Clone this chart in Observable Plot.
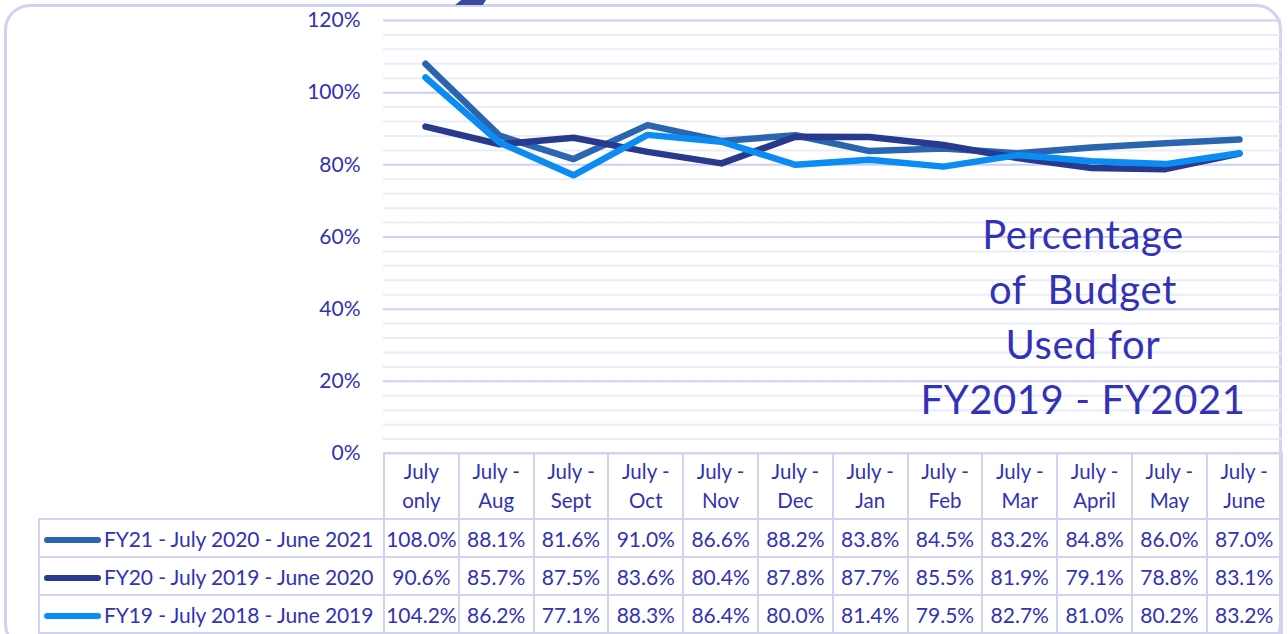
<!DOCTYPE html>
<html>
<head>
<meta charset="utf-8">
<script src="https://cdn.jsdelivr.net/npm/d3@7"></script>
<script src="https://cdn.jsdelivr.net/npm/@observablehq/plot@0.6"></script>
<style>
  html, body { margin: 0; padding: 0; background: #ffffff; }
  #wrap { position: relative; width: 1288px; height: 634px; overflow: hidden; font-family: Lato, "Open Sans", sans-serif; color: #3232b4; }
  #frame { position: absolute; left: 4px; top: 4px; width: 1272px; height: 640px; border: 3px solid #d2d2f2; border-radius: 26px; box-sizing: content-box; }
  #chart { position: absolute; left: 0; top: 0; }
  #title { position: absolute; left: 883px; width: 400px; top: 207px; text-align: center; font-size: 40px; line-height: 55px; white-space: pre; color: #3232b8; letter-spacing: 0.6px; }
  #tbl { position: absolute; left: 38px; top: 452px; border-collapse: collapse; table-layout: fixed; }
  #tbl td { border: 2px solid #d2d2f2; padding: 0; text-align: center; font-size: 21px; color: #3232b4; white-space: nowrap; overflow: visible; }
  #tbl tr.head td { height: 64px; line-height: 29px; font-size: 20.5px; }
  #tbl tr.head td.blank { border: none; border-right: 2px solid #d2d2f2; }
  #tbl tr.row td { height: 36px; }
  #tbl td.leg { text-align: left; font-size: 21px; padding-left: 4px; letter-spacing: -0.1px; }
  .sw { display: inline-block; width: 57px; height: 6px; border-radius: 3px; vertical-align: middle; margin-right: 3px; position: relative; top: -1px; }
  #nub { position: absolute; left: 455px; top: 0; width: 31px; height: 5px; background: #3b4b9c; clip-path: polygon(0 100%, 20% 0, 100% 0, 90% 100%); }
</style>
</head>
<body>
<div id="wrap">
  <div id="frame"></div>
  <div id="chart"></div>
  <div id="nub"></div>
  <div id="title"></div>
  <table id="tbl"></table>
</div>
<script>
// ---- data ----
const categories = ["July\nonly", "July -\nAug", "July -\nSept", "July -\nOct", "July -\nNov", "July -\nDec",
                    "July -\nJan", "July -\nFeb", "July -\nMar", "July -\nApril", "July -\nMay", "July -\nJune"];
const seriesNames = ["FY21 - July 2020 - June 2021", "FY20 - July 2019 - June 2020", "FY19 - July 2018 - June 2019"];
const seriesColors = ["#2a66b0", "#283a8e", "#0a8cf2"];
const fy21 = [108.0, 88.1, 81.6, 91.0, 86.6, 88.2, 83.8, 84.5, 83.2, 84.8, 86.0, 87.0];
const fy20 = [90.6, 85.7, 87.5, 83.6, 80.4, 87.8, 87.7, 85.5, 81.9, 79.1, 78.8, 83.1];
const fy19 = [104.2, 86.2, 77.1, 88.3, 86.4, 80.0, 81.4, 79.5, 82.7, 81.0, 80.2, 83.2];
const majorTicks = [0, 20, 40, 60, 80, 100, 120];
const minorTicks = [4, 8, 12, 16, 24, 28, 32, 36, 44, 48, 52, 56, 64, 68, 72, 76, 84, 88, 92, 96, 104, 108, 112, 116];
const titleLines = ["Percentage", "of  Budget", "Used for", "FY2019 - FY2021"];

const seriesValues = [fy21, fy20, fy19];
const rows = seriesNames.flatMap((s, si) => categories.map((c, i) => ({series: s, cat: c, value: seriesValues[si][i]})));

const textColor = "#3232b4";

const chart = Plot.plot({
  width: 1288,
  height: 456,
  marginTop: 20,
  marginBottom: 3,
  marginLeft: 383,
  marginRight: 7,
  style: {fontFamily: "Lato, 'Open Sans', sans-serif", background: "transparent", overflow: "visible"},
  x: {type: "point", domain: categories, padding: 0.5, axis: null},
  y: {domain: [0, 120], axis: null, label: null},
  color: {domain: seriesNames, range: seriesColors},
  marks: [
    Plot.ruleY(minorTicks, {stroke: "#ebebfa", strokeWidth: 2}),
    Plot.ruleY(majorTicks, {stroke: "#cfcff2", strokeWidth: 2}),
    Plot.axisY(majorTicks, {tickFormat: d => d + "%", tickSize: 0, tickPadding: 23, fontSize: 21, fill: textColor, anchor: "left", label: null}),
    Plot.lineY(rows, {x: "cat", y: "value", z: "series", stroke: "series", strokeWidth: 6.5, strokeLinecap: "round", strokeLinejoin: "round"})
  ]
});
document.getElementById("chart").appendChild(chart);

document.getElementById("title").textContent = titleLines.join("\n");

// ---- table ----
const tbl = document.getElementById("tbl");
const colW = (1280.6 - 383) / categories.length;
const cg = document.createElement("colgroup");
const c0 = document.createElement("col"); c0.style.width = (383 - 38) + "px"; cg.appendChild(c0);
categories.forEach(() => { const c = document.createElement("col"); c.style.width = colW + "px"; cg.appendChild(c); });
tbl.appendChild(cg);
tbl.style.width = (1280.6 - 38) + "px";

const hr = document.createElement("tr"); hr.className = "head";
const blank = document.createElement("td"); blank.className = "blank"; hr.appendChild(blank);
categories.forEach(c => {
  const td = document.createElement("td");
  td.innerHTML = c.split("\n").join("<br>");
  hr.appendChild(td);
});
tbl.appendChild(hr);

seriesNames.forEach((s, si) => {
  const tr = document.createElement("tr"); tr.className = "row";
  const lg = document.createElement("td"); lg.className = "leg";
  const sw = document.createElement("span"); sw.className = "sw"; sw.style.background = seriesColors[si];
  lg.appendChild(sw);
  lg.appendChild(document.createTextNode(s));
  tr.appendChild(lg);
  seriesValues[si].forEach(v => {
    const td = document.createElement("td");
    td.textContent = v.toFixed(1) + "%";
    tr.appendChild(td);
  });
  tbl.appendChild(tr);
});
</script>
</body>
</html>
